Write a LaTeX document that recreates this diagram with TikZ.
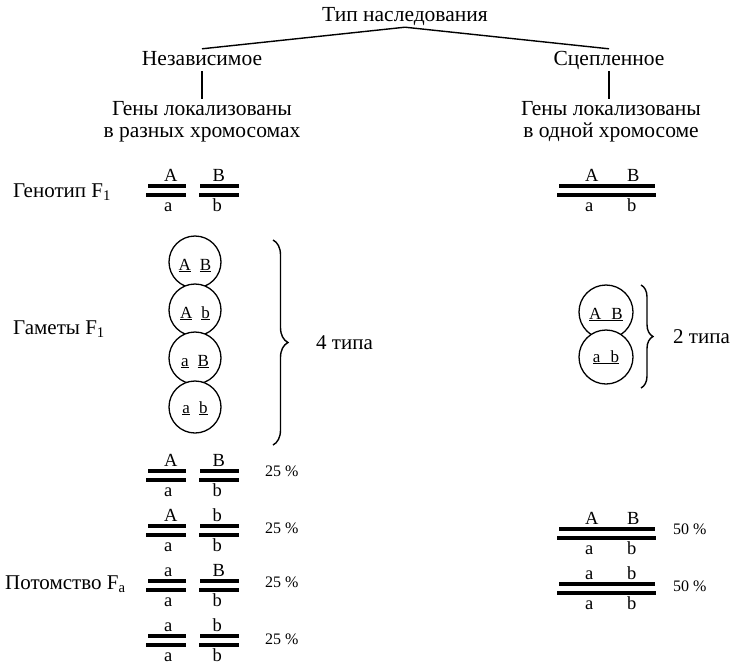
\documentclass[tikz,border=0pt]{standalone}
\usepackage{fontspec}
\setmainfont{Liberation Serif}
\usetikzlibrary{decorations.pathreplacing}
\newcommand\leftpair[6]{%
  \draw[bar] (148,#2) -- (186,#2);
  \draw[bar] (146,{#2+9}) -- (186,{#2+9});
  \draw[bar] (200,#2) -- (239,#2);
  \draw[bar] (199,{#2+9}) -- (239,{#2+9});
  \node[gl] (#1tl) at (164,{#2-5}) {#3};
  \node[gl] (#1bl) at (164,{#2+25.5}) {#4};
  \node[gl] (#1tr) at (212.5,{#2-5}) {#5};
  \node[gl] (#1br) at (212.5,{#2+25.5}) {#6};
}
\newcommand\rightpair[6]{%
  \draw[bar] (559,#2) -- (655,#2);
  \draw[bar] (557,{#2+9}) -- (656,{#2+9});
  \node[gl] (#1tl) at (585,{#2-5}) {#3};
  \node[gl] (#1bl) at (585,{#2+25.5}) {#4};
  \node[gl] (#1tr) at (627,{#2-5}) {#5};
  \node[gl] (#1br) at (627,{#2+25.5}) {#6};
}
\begin{document}
\begin{tikzpicture}[x=1pt,y=-1pt,
  txt/.style={font=\fontsize{21.5}{24}\selectfont, inner xsep=0pt, inner ysep=2pt, text height=14pt, text depth=4pt},
  lbl/.style={font=\fontsize{21}{24}\selectfont, inner sep=0pt, anchor=base west},
  gl/.style={font=\fontsize{18.5}{20}\selectfont, inner sep=0pt, anchor=base west},
  pct/.style={font=\fontsize{16}{18}\selectfont, inner sep=0pt, anchor=base west},
  tie/.style={line width=1.4pt},
  bar/.style={line width=3.4pt},
  gam/.style={draw, circle, line width=1.3pt, fill=white, inner sep=0pt, font=\fontsize{17}{19}\selectfont},
  brc/.style={decorate, decoration={brace, amplitude=#1}, line width=1.4pt},
]
\useasboundingbox (0,0) rectangle (742,665);

% tree
\node[txt] (title) at (405,16) {Тип наследования};
\node[txt] (indep) at (202,60) {Независимое};
\node[txt] (linked) at (609,60) {Сцепленное};
\node[txt] (gl1) at (202,110) {Гены локализованы};
\node[txt] (gl2) at (202,132) {в разных хромосомах};
\node[txt] (gr1) at (611,110) {Гены локализованы};
\node[txt] (gr2) at (611,132) {в одной хромосоме};
\draw[tie] (title.south) -- (indep.north);
\draw[tie] (title.south) -- (linked.north);
\draw[tie] (indep.south) -- (indep.south |- gl1.north);
\draw[tie] (linked.south) -- (linked.south |- gr1.north);

% row labels
\node[lbl] (genotype) at (13,197) {Генотип F\textsubscript{1}};
\node[lbl] (gametes) at (13,334) {Гаметы F\textsubscript{1}};
\node[lbl] (offspring) at (5,589) {Потомство F\textsubscript{a}};

% genotypes
\leftpair{gt}{186}{A}{a}{B}{b}
\rightpair{gtR}{186}{A}{a}{B}{b}

% gametes, independent
\node[gam, minimum size=52pt, text height=18pt, text depth=2pt] (c1) at (195,262) {\underline{A}\hspace{9pt}\underline{B}};
\node[gam, minimum size=52pt, text height=18pt, text depth=2pt] (c2) at (195,310) {\underline{A}\hspace{9pt}\underline{b}};
\node[gam, minimum size=52pt, text height=18pt, text depth=2pt] (c3) at (195,358) {\underline{a}\hspace{9pt}\underline{B}};
\node[gam, minimum size=52pt, text height=14pt, text depth=2pt] (c4) at (195,407) {\underline{a}\hspace{9pt}\underline{b}};
\draw[brc=15pt] (273,240) -- (273,445);
\node[lbl] (four) at (316,349) {4 типа};

% gametes, linked
\node[gam, minimum size=54pt, text height=16pt, text depth=2pt] (d1) at (606,312) {\underline{A\hspace{10pt}B}};
\node[gam, minimum size=54pt, text height=12pt, text depth=2pt] (d2) at (606,357) {\underline{a\hspace{10pt}b}};
\draw[brc=12pt] (641,285) -- (641,388);
\node[lbl] (two) at (673,343) {2 типа};

% offspring, independent
\leftpair{oa}{471}{A}{a}{B}{b}
\leftpair{ob}{526}{A}{a}{b}{b}
\leftpair{oc}{581}{a}{a}{B}{b}
\leftpair{od}{636}{a}{a}{b}{b}
\node[pct] (p1) at (265,476) {25 \%};
\node[pct] (p2) at (265,533) {25 \%};
\node[pct] (p3) at (265,587) {25 \%};
\node[pct] (p4) at (265,644) {25 \%};

% offspring, linked
\rightpair{ra}{529}{A}{a}{B}{b}
\rightpair{rb}{584}{a}{a}{b}{b}
\node[pct] (q1) at (673,534) {50 \%};
\node[pct] (q2) at (673,591) {50 \%};
\end{tikzpicture}
\end{document}
